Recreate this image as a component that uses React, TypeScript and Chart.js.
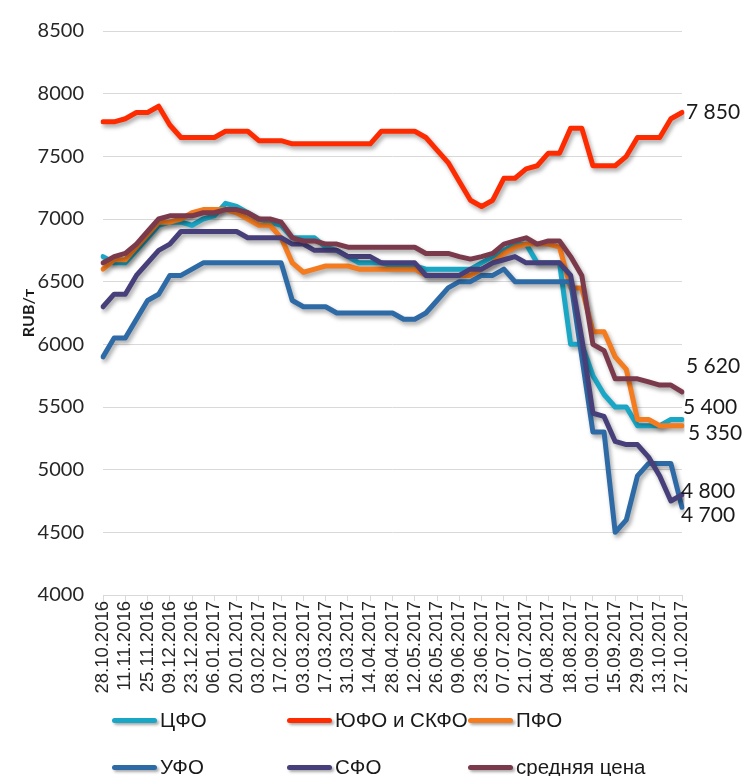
import React, { useEffect, useRef } from 'react';
import { Chart, registerables } from 'chart.js';

Chart.register(...registerables);

// ---------- DATA ----------
const dates = [
  '28.10.2016', '04.11.2016', '11.11.2016', '18.11.2016', '25.11.2016', '02.12.2016', '09.12.2016',
  '16.12.2016', '23.12.2016', '30.12.2016', '06.01.2017', '13.01.2017', '20.01.2017', '27.01.2017',
  '03.02.2017', '10.02.2017', '17.02.2017', '24.02.2017', '03.03.2017', '10.03.2017', '17.03.2017',
  '24.03.2017', '31.03.2017', '07.04.2017', '14.04.2017', '21.04.2017', '28.04.2017', '05.05.2017',
  '12.05.2017', '19.05.2017', '26.05.2017', '02.06.2017', '09.06.2017', '16.06.2017', '23.06.2017',
  '30.06.2017', '07.07.2017', '14.07.2017', '21.07.2017', '28.07.2017', '04.08.2017', '11.08.2017',
  '18.08.2017', '25.08.2017', '01.09.2017', '08.09.2017', '15.09.2017', '22.09.2017', '29.09.2017',
  '06.10.2017', '13.10.2017', '20.10.2017', '27.10.2017',
];

const seriesNames = ['ЦФО', 'ЮФО и СКФО', 'ПФО', 'УФО', 'СФО', 'средняя цена'];

const cfo = [
  6700, 6650, 6650, 6750, 6850, 6950, 6975, 6975, 6950, 7000,
  7025, 7125, 7100, 7050, 7000, 6975, 6950, 6850, 6850, 6850,
  6775, 6750, 6700, 6650, 6650, 6650, 6625, 6625, 6625, 6600,
  6600, 6600, 6600, 6600, 6650, 6700, 6750, 6800, 6800, 6650,
  6650, 6650, 6000, 6000, 5750, 5600, 5500, 5500, 5350, 5350,
  5350, 5400, 5400,
];

const yufo = [
  7775, 7775, 7800, 7850, 7850, 7900, 7750, 7650, 7650, 7650,
  7650, 7700, 7700, 7700, 7625, 7625, 7625, 7600, 7600, 7600,
  7600, 7600, 7600, 7600, 7600, 7700, 7700, 7700, 7700, 7650,
  7550, 7450, 7300, 7150, 7100, 7150, 7325, 7325, 7400, 7425,
  7525, 7525, 7725, 7725, 7425, 7425, 7425, 7500, 7650, 7650,
  7650, 7800, 7850,
];

const pfo = [
  6600, 6675, 6675, 6775, 6875, 6975, 6975, 7000, 7050, 7075,
  7075, 7075, 7050, 7000, 6950, 6950, 6850, 6650, 6575, 6600,
  6625, 6625, 6625, 6600, 6600, 6600, 6600, 6600, 6600, 6550,
  6550, 6550, 6550, 6550, 6600, 6650, 6725, 6775, 6800, 6800,
  6800, 6775, 6450, 6450, 6100, 6100, 5900, 5800, 5400, 5400,
  5350, 5350, 5350,
];

const ufo = [
  5900, 6050, 6050, 6200, 6350, 6400, 6550, 6550, 6600, 6650,
  6650, 6650, 6650, 6650, 6650, 6650, 6650, 6350, 6300, 6300,
  6300, 6250, 6250, 6250, 6250, 6250, 6250, 6200, 6200, 6250,
  6350, 6450, 6500, 6500, 6550, 6550, 6600, 6500, 6500, 6500,
  6500, 6500, 6500, 5900, 5300, 5300, 4500, 4600, 4950, 5050,
  5050, 5050, 4700,
];

const sfo = [
  6300, 6400, 6400, 6550, 6650, 6750, 6800, 6900, 6900, 6900,
  6900, 6900, 6900, 6850, 6850, 6850, 6850, 6800, 6800, 6750,
  6750, 6750, 6700, 6700, 6700, 6650, 6650, 6650, 6650, 6550,
  6550, 6550, 6550, 6600, 6600, 6650, 6675, 6700, 6650, 6650,
  6650, 6650, 6550, 6050, 5450, 5425, 5225, 5200, 5200, 5100,
  4950, 4750, 4800,
];

const avgPrice = [
  6650, 6700, 6725, 6800, 6900, 7000, 7025, 7025, 7025, 7050,
  7050, 7075, 7075, 7050, 7000, 7000, 6975, 6850, 6825, 6825,
  6800, 6800, 6775, 6775, 6775, 6775, 6775, 6775, 6775, 6725,
  6725, 6725, 6700, 6680, 6700, 6725, 6800, 6825, 6850, 6800,
  6825, 6825, 6700, 6550, 6000, 5950, 5725, 5725, 5725, 5700,
  5675, 5675, 5620,
];

const seriesValues = [cfo, yufo, pfo, ufo, sfo, avgPrice];

const yMin = 4000;
const yMax = 8500;
const yStep = 500;
const yTitle = 'RUB/т';

// ---------- STYLE ----------
const COLORS = ['#1aa6c5', '#ff2b00', '#f47b1e', '#2e6ba6', '#473f79', '#7b3a4c'];
// end-label offsets (px) from the last point of each series
const LABEL_OFFSETS = [
  { dx: 1, dy: -12 },
  { dx: 4, dy: 0 },
  { dx: 6, dy: 7 },
  { dx: -1, dy: 8 },
  { dx: -1, dy: -3 },
  { dx: 4, dy: -26 },
];
// legend layout: [left of sample, row centre y]
const LEGEND_POS = [
  [112, 720], [287, 720], [468, 720],
  [112, 767], [287, 767], [468, 767],
];

const fmt = (v: number) => String(v).replace(/\B(?=(\d{3})+(?!\d))/g, ' ');

export default function App() {
  const ref = useRef<HTMLCanvasElement>(null);

  useEffect(() => {
    if (!ref.current) return;

    const shadowPlugin = {
      id: 'lineShadow',
      beforeDatasetDraw(chart: any) {
        const c = chart.ctx;
        c.save();
        c.shadowColor = 'rgba(0,0,0,0.35)';
        c.shadowBlur = 4;
        c.shadowOffsetX = 2;
        c.shadowOffsetY = 3;
      },
      afterDatasetDraw(chart: any) {
        chart.ctx.restore();
      },
    };

    const endLabels = {
      id: 'endLabels',
      afterDatasetsDraw(chart: any) {
        const c = chart.ctx;
        const xs = chart.scales.x;
        const ys = chart.scales.y;
        c.save();
        c.font = '21px Lato, "Open Sans", sans-serif';
        c.fillStyle = '#1a1a1a';
        c.textAlign = 'left';
        c.textBaseline = 'middle';
        seriesValues.forEach((arr, i) => {
          const last = arr.length - 1;
          const x = xs.getPixelForValue(last);
          const y = ys.getPixelForValue(arr[last]);
          c.fillText(fmt(arr[last]), x + LABEL_OFFSETS[i].dx, y + LABEL_OFFSETS[i].dy);
        });
        c.restore();
      },
    };

    const datasets = seriesNames.map((name, i) => ({
      label: name,
      data: seriesValues[i],
      borderColor: COLORS[i],
      backgroundColor: COLORS[i],
      borderWidth: 5,
      pointRadius: 0,
      tension: 0,
      fill: false,
      borderCapStyle: 'round' as const,
      borderJoinStyle: 'round' as const,
      order: seriesNames.length - i,
    }));

    const chart = new Chart(ref.current, {
      type: 'line',
      data: { labels: dates, datasets },
      options: {
        animation: false,
        responsive: false,
        maintainAspectRatio: false,
        layout: { padding: { top: 20, right: 61, bottom: 76, left: 0 } },
        plugins: { legend: { display: false }, tooltip: { enabled: false } },
        scales: {
          x: {
            grid: { display: true, drawOnChartArea: false, tickLength: 6, color: '#d9d9d9' },
            border: { display: true, color: '#d9d9d9' },
            ticks: {
              autoSkip: false,
              maxRotation: 90,
              minRotation: 90,
              padding: 0,
              color: '#262626',
              font: { family: '"Liberation Sans", Arial, sans-serif', size: 18.5 },
              callback: (_v: any, i: number) => (i % 2 === 0 ? dates[i] : null),
            },
            afterFit: (s: any) => { s.height = 105; },
          },
          y: {
            min: yMin,
            max: yMax,
            ticks: {
              stepSize: yStep,
              padding: 19,
              color: '#262626',
              font: { family: 'Lato, "Open Sans", sans-serif', size: 20 },
              callback: (v: any) => String(v),
            },
            grid: { color: '#d9d9d9', drawTicks: false },
            border: { display: false },
            title: {
              display: true,
              text: yTitle,
              color: '#1a1a1a',
              font: { family: 'Lato, "Open Sans", sans-serif', size: 16, weight: 'bold' },
              padding: { top: 19, bottom: 0 },
            },
            afterFit: (s: any) => { s.width = 103; },
          },
        },
      },
      plugins: [shadowPlugin, endLabels],
    } as any);

    return () => chart.destroy();
  }, []);

  return (
    <div style={{ position: 'absolute', left: 0, top: 0, width: 743, height: 776, background: '#fff', overflow: 'hidden' }}>
      <canvas ref={ref} width={743} height={776} style={{ position: 'absolute', left: 0, top: 0, width: 743, height: 776 }} />
      {seriesNames.map((name, i) => (
        <div
          key={name}
          style={{
            position: 'absolute',
            left: LEGEND_POS[i][0],
            top: LEGEND_POS[i][1] - 14,
            height: 28,
            display: 'flex',
            alignItems: 'center',
            whiteSpace: 'nowrap',
            fontFamily: '"Liberation Sans", Arial, sans-serif',
            fontSize: 20.5,
            color: '#1a1a1a',
          }}
        >
          <span
            style={{
              display: 'inline-block',
              width: 45,
              height: 5,
              borderRadius: 3,
              background: COLORS[i],
              boxShadow: '2px 2px 3px rgba(0,0,0,0.35)',
              marginRight: 3,
            }}
          />
          <span>{name}</span>
        </div>
      ))}
    </div>
  );
}
